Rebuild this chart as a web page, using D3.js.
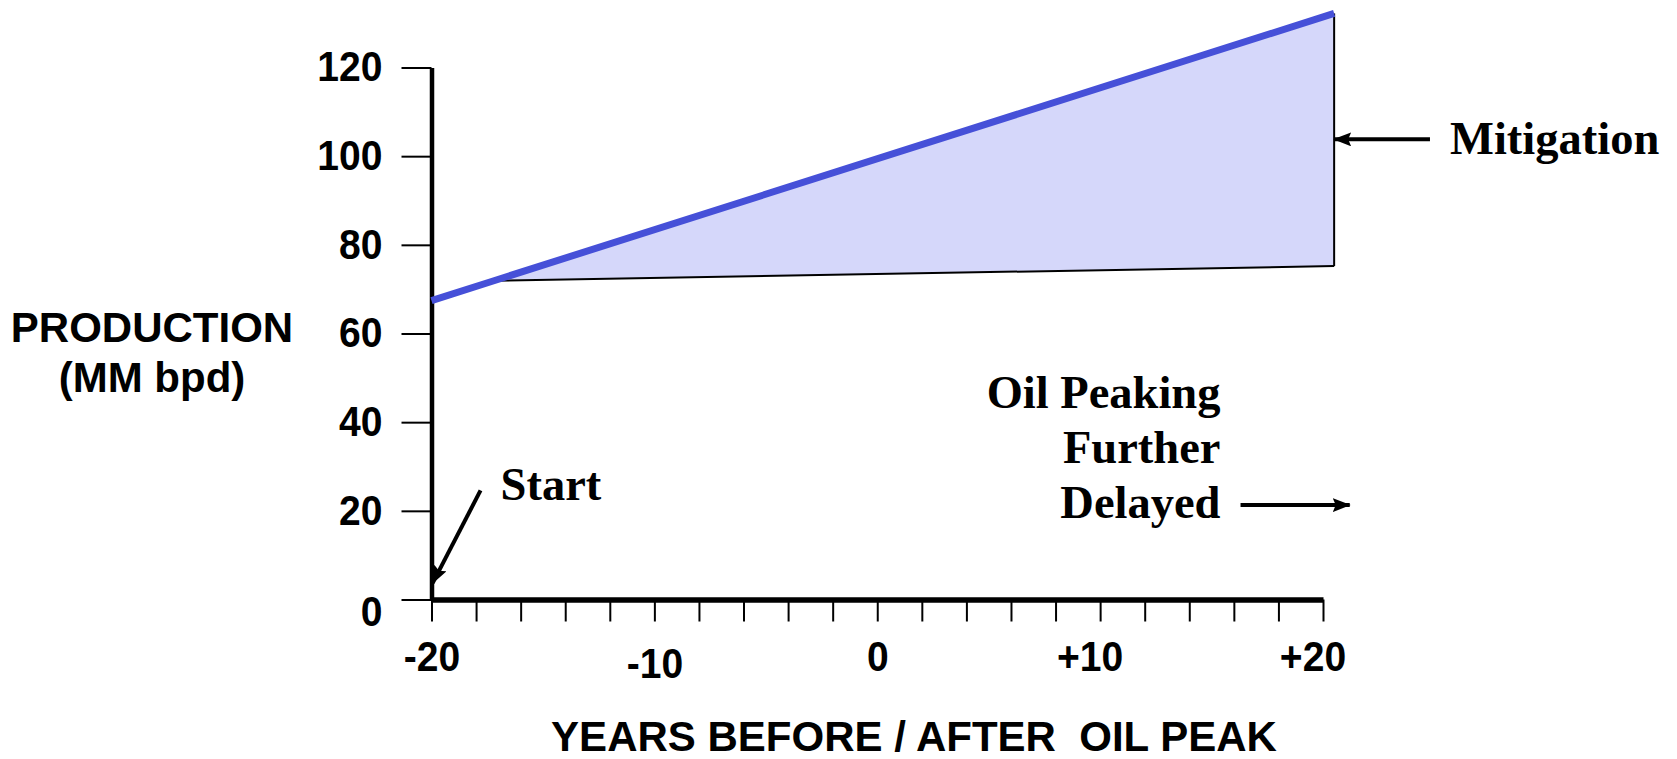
<!DOCTYPE html>
<html>
<head>
<meta charset="utf-8">
<script src="https://cdn.jsdelivr.net/npm/d3@7/dist/d3.min.js"></script>
<style>
  body { margin: 0; background: #fff; }
</style>
</head>
<body>
<div id="wrapper"></div>
<script>
// values
const years = [-20, -17.2, 20.5];
const withMitigation = [67.4, 71.9, 132.2];
const withoutMitigation = [null, 71.9, 75.2];

const yTicks = [0, 20, 40, 60, 80, 100, 120];
const xTicks = [-20, -18, -16, -14, -12, -10, -8, -6, -4, -2, 0, 2, 4, 6, 8, 10, 12, 14, 16, 18, 20];
const xLabelValues = [-20, -10, 0, 10, 20];
const xLabels = ["-20", "-10", "0", "+10", "+20"];

// annotations, in data units
const notes = [
    { text: "Mitigation", x: 25.7, y: 100.6, anchor: "start" },
    { text: "Start", x: -16.9, y: 22.4, anchor: "start" },
    { text: "Oil Peaking", x: 15.4, y: 43.2, anchor: "end" },
    { text: "Further", x: 15.4, y: 30.7, anchor: "end" },
    { text: "Delayed", x: 15.4, y: 18.4, anchor: "end" }
];
const arrows = [
    { x1: 24.8, y1: 103.8, x2: 20.5, y2: 103.8 },
    { x1: -17.8, y1: 24.6, x2: -19.95, y2: 3.7 },
    { x1: 16.3, y1: 21.3, x2: 21.2, y2: 21.3 }
];

const dimension = { width: 1677, height: 759 };

const svg = d3.select("#wrapper")
    .append("svg")
    .attr("width", dimension.width)
    .attr("height", dimension.height);

const xScaler = d3.scaleLinear()
    .domain([-20, 20])
    .range([431.5, 1323]);

const yScaler = d3.scaleLinear()
    .domain([0, 120])
    .range([599.5, 67.5]);

const rows = years.map((d, i) => ({ x: d, hi: withMitigation[i], lo: withoutMitigation[i] }));

// shaded gap between the two paths
const area = d3.area()
    .defined(d => d.lo != null)
    .x(d => xScaler(d.x))
    .y0(d => yScaler(d.lo))
    .y1(d => yScaler(d.hi));

svg.append("path")
    .datum(rows)
    .attr("d", area)
    .attr("fill", "#d5d7fa");

const lowLine = d3.line()
    .defined(d => d.lo != null)
    .x(d => xScaler(d.x))
    .y(d => yScaler(d.lo));

svg.append("path")
    .datum(rows)
    .attr("d", lowLine)
    .attr("fill", "none")
    .attr("stroke", "#000")
    .attr("stroke-width", 2);

const last = rows[rows.length - 1];
svg.append("line")
    .attr("x1", xScaler(last.x))
    .attr("x2", xScaler(last.x))
    .attr("y1", yScaler(last.lo))
    .attr("y2", yScaler(last.hi))
    .attr("stroke", "#000")
    .attr("stroke-width", 2);

// axes
const yAxisGen = d3.axisLeft(yScaler)
    .tickValues(yTicks)
    .tickSize(30)
    .tickSizeOuter(0)
    .tickPadding(19);

const yAxis = svg.append("g")
    .attr("transform", `translate(${xScaler(-20)},0)`)
    .call(yAxisGen);

const xAxisGen = d3.axisBottom(xScaler)
    .tickValues(xTicks)
    .tickSize(22)
    .tickSizeOuter(0)
    .tickPadding(20)
    .tickFormat(d => {
        const i = xLabelValues.indexOf(d);
        return i < 0 ? "" : xLabels[i];
    });

const xAxis = svg.append("g")
    .attr("transform", `translate(0,${yScaler(0)})`)
    .call(xAxisGen);

yAxis.select(".domain").attr("stroke", "#000").attr("stroke-width", 4.5);
xAxis.select(".domain").attr("stroke", "#000").attr("stroke-width", 5.5);
svg.selectAll(".tick line").attr("stroke", "#000").attr("stroke-width", 2);
svg.selectAll(".tick text")
    .attr("fill", "#000")
    .style("font-family", "'Liberation Sans', Arial, sans-serif")
    .style("font-weight", "bold")
    .style("font-size", "42px");

// labels in the source are a bit narrower than the font
svg.selectAll(".tick text").each(function() {
    const w = this.getComputedTextLength();
    if (w > 0) {
        d3.select(this)
            .attr("textLength", w * 0.93)
            .attr("lengthAdjust", "spacingAndGlyphs");
    }
});

yAxis.selectAll(".tick text").filter(d => d == 0).attr("dy", "0.62em");
xAxis.selectAll(".tick text").filter(d => d == -10).attr("dy", "0.86em");
xAxis.selectAll(".tick text").filter(d => d > 0).attr("dx", "-0.25em");

// mitigated production line
const topLine = d3.line()
    .x(d => xScaler(d.x))
    .y(d => yScaler(d.hi));

svg.append("path")
    .datum(rows)
    .attr("d", topLine)
    .attr("fill", "none")
    .attr("stroke", "#4650d8")
    .attr("stroke-width", 7);

// axis titles
const title = svg.append("g")
    .style("font-family", "'Liberation Sans', Arial, sans-serif")
    .style("font-weight", "bold")
    .style("font-size", "42px")
    .attr("fill", "#000")
    .attr("text-anchor", "middle");

title.append("text").attr("x", 152).attr("y", 342).text("PRODUCTION");
title.append("text").attr("x", 152).attr("y", 392).text("(MM bpd)");
title.append("text").attr("x", 914).attr("y", 751).text("YEARS BEFORE / AFTER  OIL PEAK")
    .style("white-space", "pre");

// annotations
svg.append("defs").append("marker")
    .attr("id", "head")
    .attr("viewBox", "0 0 18 14")
    .attr("refX", 17)
    .attr("refY", 7)
    .attr("markerWidth", 18)
    .attr("markerHeight", 14)
    .attr("markerUnits", "userSpaceOnUse")
    .attr("orient", "auto")
    .append("path")
    .attr("d", "M0,0 L18,7 L0,14 L3,7 Z")
    .attr("fill", "#000");

svg.append("g")
    .selectAll("line")
    .data(arrows)
    .enter()
    .append("line")
    .attr("x1", d => xScaler(d.x1))
    .attr("y1", d => yScaler(d.y1))
    .attr("x2", d => xScaler(d.x2))
    .attr("y2", d => yScaler(d.y2))
    .attr("stroke", "#000")
    .attr("stroke-width", 4)
    .attr("marker-end", "url(#head)");

svg.append("g")
    .selectAll("text")
    .data(notes)
    .enter()
    .append("text")
    .attr("x", d => xScaler(d.x))
    .attr("y", d => yScaler(d.y))
    .attr("text-anchor", d => d.anchor)
    .text(d => d.text)
    .attr("fill", "#000")
    .style("font-family", "'Liberation Serif', 'Times New Roman', serif")
    .style("font-weight", "bold")
    .style("font-size", "46.5px");
</script>
</body>
</html>
